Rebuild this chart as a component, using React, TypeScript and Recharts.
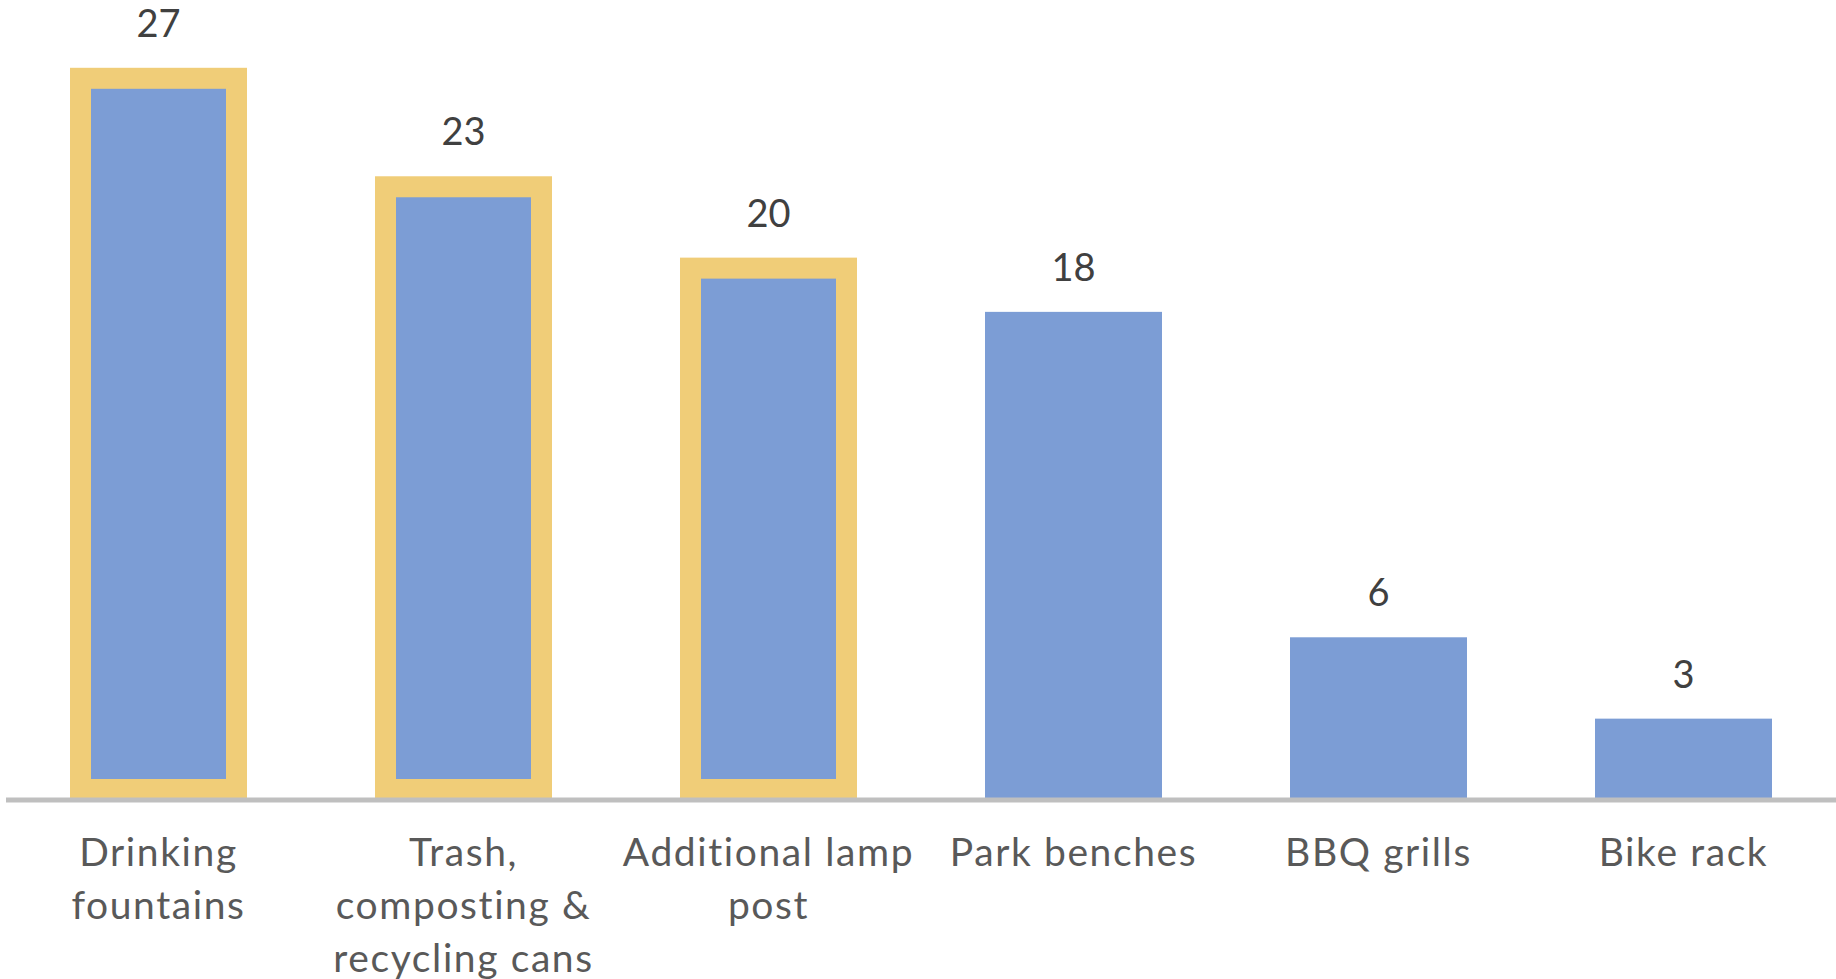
import React from "react";
import { BarChart, Bar, XAxis, YAxis, LabelList } from "recharts";

const categories = [
  "Drinking\nfountains",
  "Trash,\ncomposting &\nrecycling cans",
  "Additional lamp\npost",
  "Park benches",
  "BBQ grills",
  "Bike rack",
];
const counts = [27, 23, 20, 18, 6, 3];
const highlighted = [true, true, true, false, false, false];

const data = categories.map((c, i) => ({ name: c, value: counts[i], hl: highlighted[i] }));

const BLUE = "#7C9DD5";
const YELLOW = "#F0CD78";
const FONT = "Lato, 'Open Sans', sans-serif";
const INSET = 21;

const BarShape = (props: any) => {
  const { x, y, width, height, payload } = props;
  if (payload && payload.hl) {
    return (
      <g>
        <rect x={x} y={y} width={width} height={height} fill={YELLOW} />
        <rect
          x={x + INSET}
          y={y + INSET}
          width={Math.max(0, width - 2 * INSET)}
          height={Math.max(0, height - 2 * INSET)}
          fill={BLUE}
        />
      </g>
    );
  }
  return <rect x={x} y={y} width={width} height={height} fill={BLUE} />;
};

const Tick = (props: any) => {
  const { x, y, payload } = props;
  const lines = String(payload.value).split("\n");
  return (
    <text x={x} y={y} textAnchor="middle" fill="#595959" fontFamily={FONT} fontSize={39} letterSpacing={1.6}>
      {lines.map((l, i) => (
        <tspan key={i} x={x} y={y + 66 + i * 53}>
          {l}
        </tspan>
      ))}
    </text>
  );
};

const ValueLabel = (props: any) => {
  const { x, y, width, value } = props;
  return (
    <text x={x + width / 2} y={y - 31} textAnchor="middle" fill="#404040" fontFamily={FONT} fontSize={38}>
      {value}
    </text>
  );
};

export default function App() {
  return (
    <div style={{ position: "absolute", left: 0, top: 0, width: 1836, height: 979, background: "#fff" }}>
      <BarChart
        width={1836}
        height={979}
        data={data}
        margin={{ top: 0, right: 0, left: 6, bottom: 0 }}
        barSize={177}
      >
        <YAxis hide domain={[0, 29.5]} />
        <XAxis
          dataKey="name"
          height={179}
          tickLine={false}
          tickSize={0}
          tickMargin={0}
          axisLine={{ stroke: "#BFBFBF", strokeWidth: 5 }}
          tick={<Tick />}
          interval={0}
        />
        <Bar dataKey="value" isAnimationActive={false} shape={<BarShape />}>
          <LabelList dataKey="value" content={<ValueLabel />} />
        </Bar>
      </BarChart>
    </div>
  );
}
